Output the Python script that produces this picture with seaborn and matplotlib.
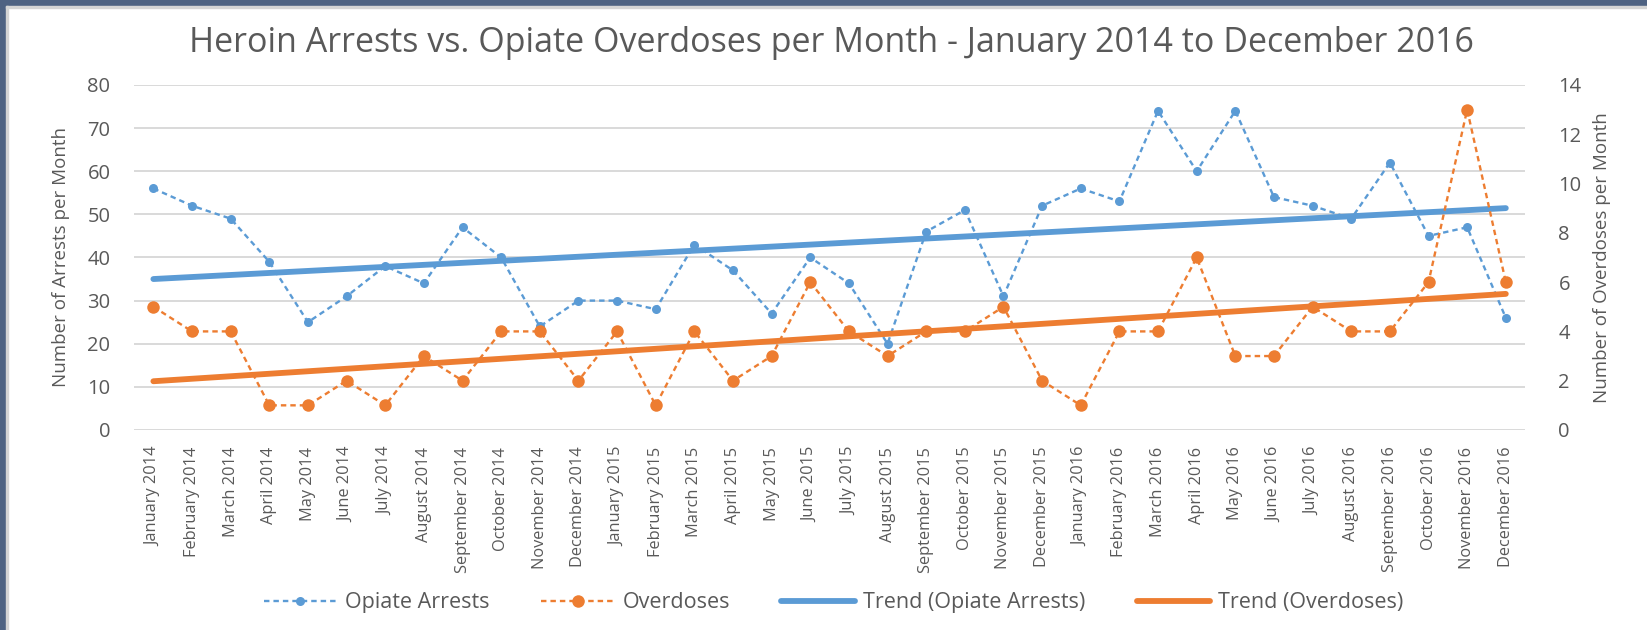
import numpy as np
import pandas as pd
import matplotlib
matplotlib.use("Agg")
import matplotlib.pyplot as plt
from matplotlib.patches import Rectangle
from matplotlib.lines import Line2D
import seaborn as sns

# Monthly data, January 2014 - December 2016
months = [
    'January 2014', 'February 2014', 'March 2014', 'April 2014', 'May 2014', 'June 2014',
    'July 2014', 'August 2014', 'September 2014', 'October 2014', 'November 2014', 'December 2014',
    'January 2015', 'February 2015', 'March 2015', 'April 2015', 'May 2015', 'June 2015',
    'July 2015', 'August 2015', 'September 2015', 'October 2015', 'November 2015', 'December 2015',
    'January 2016', 'February 2016', 'March 2016', 'April 2016', 'May 2016', 'June 2016',
    'July 2016', 'August 2016', 'September 2016', 'October 2016', 'November 2016', 'December 2016',
]
opiate_arrests = [56, 52, 49, 39, 25, 31, 38, 34, 47, 40, 24, 30,
                  30, 28, 43, 37, 27, 40, 34, 20, 46, 51, 31, 52,
                  56, 53, 74, 60, 74, 54, 52, 49, 62, 45, 47, 26]
overdoses = [5, 4, 4, 1, 1, 2, 1, 3, 2, 4, 4, 2,
             4, 1, 4, 2, 3, 6, 4, 3, 4, 4, 5, 2,
             1, 4, 4, 7, 3, 3, 5, 4, 4, 6, 13, 6]

df = pd.DataFrame({'Month': months, 'Opiate Arrests': opiate_arrests, 'Overdoses': overdoses})
df['idx'] = np.arange(len(df))

BLUE = '#5B9BD5'
ORANGE = '#ED7D31'
GREY = '#595959'
GRID = '#D9D9D9'

sns.set_theme(style='white')
plt.rcParams['font.family'] = ['Open Sans', 'DejaVu Sans']

fig = plt.figure(figsize=(16.47, 6.3), dpi=100)
ax = fig.add_axes([0.0814, 0.3175, 0.8446, 0.5476])
ax2 = ax.twinx()

dash = (0, (2.3, 1.7))

# dashed series with markers
sns.lineplot(data=df, x='idx', y='Opiate Arrests', ax=ax, color=BLUE, lw=1.7,
             linestyle=dash, marker='o', markersize=6.5,
             markeredgecolor=BLUE, markeredgewidth=0, zorder=3)
sns.lineplot(data=df, x='idx', y='Overdoses', ax=ax2, color=ORANGE, lw=1.7,
             linestyle=dash, marker='o', markersize=9,
             markeredgecolor=ORANGE, markeredgewidth=0, zorder=3)

# linear trend lines
sns.regplot(data=df, x='idx', y='Opiate Arrests', ax=ax, scatter=False, ci=None,
            color=BLUE, line_kws={'lw': 4.2, 'solid_capstyle': 'round', 'zorder': 4})
sns.regplot(data=df, x='idx', y='Overdoses', ax=ax2, scatter=False, ci=None,
            color=ORANGE, line_kws={'lw': 4.2, 'solid_capstyle': 'round', 'zorder': 4})

ax.set_xlim(-0.5, len(months) - 0.5)
ax.set_ylim(0, 80)
ax2.set_ylim(0, 14)
ax.set_yticks(range(0, 81, 10))
ax2.set_yticks(range(0, 15, 2))
ax.set_xticks(df['idx'])
ax.set_xticklabels(months, rotation=90)

ax.yaxis.grid(True, color=GRID, lw=1.4)
ax.xaxis.grid(False)
ax2.grid(False)
for a in (ax, ax2):
    for s in a.spines.values():
        s.set_visible(False)
    a.set_xlabel('')

ax.tick_params(axis='x', length=0, pad=12, labelsize=11.8, labelcolor=GREY)
ax.tick_params(axis='y', length=0, pad=17, labelsize=14.5, labelcolor=GREY)
ax2.tick_params(axis='y', length=0, pad=24, labelsize=14.5, labelcolor=GREY)

ax.set_ylabel('Number of Arrests per Month', fontsize=13.5, color=GREY)
ax2.set_ylabel('Number of Overdoses per Month', fontsize=13.5, color=GREY)
ax.yaxis.set_label_coords(-0.046, 0.5)
ax2.yaxis.set_label_coords(1.049, 0.5)

fig.text(0.505, 0.932, 'Heroin Arrests vs. Opiate Overdoses per Month - January 2014 to December 2016',
         ha='center', va='center', fontsize=24.5, color=GREY)

handles = [
    Line2D([], [], color=BLUE, lw=1.7, linestyle=dash, marker='o', markersize=6.5, mew=0),
    Line2D([], [], color=ORANGE, lw=1.7, linestyle=dash, marker='o', markersize=9, mew=0),
    Line2D([], [], color=BLUE, lw=4.2, solid_capstyle='round'),
    Line2D([], [], color=ORANGE, lw=4.2, solid_capstyle='round'),
]
labels = ['Opiate Arrests', 'Overdoses', 'Trend (Opiate Arrests)', 'Trend (Overdoses)']
leg = fig.legend(handles, labels, loc='center', bbox_to_anchor=(0.506, 0.043), ncol=4,
                 frameon=False, fontsize=15.5, handlelength=3.4, handletextpad=0.37,
                 columnspacing=2.4, numpoints=1)
for t in leg.get_texts():
    t.set_color(GREY)

# slate frame on the top and left edges of the screenshot
fig.patches.append(Rectangle((0, 1 - 6 / 630), 1, 6 / 630, transform=fig.transFigure,
                             color='#4E6282', zorder=10))
fig.patches.append(Rectangle((0, 0), 6 / 1647, 1, transform=fig.transFigure,
                             color='#4E6282', zorder=10))
fig.patches.append(Rectangle((6 / 1647, 1 - 8 / 630), 1, 2 / 630, transform=fig.transFigure,
                             color='#D4D4D4', zorder=10))
fig.patches.append(Rectangle((6 / 1647, 0), 2 / 1647, 1 - 6 / 630, transform=fig.transFigure,
                             color='#D4D4D4', zorder=10))

fig.savefig('out.png', dpi=100)
